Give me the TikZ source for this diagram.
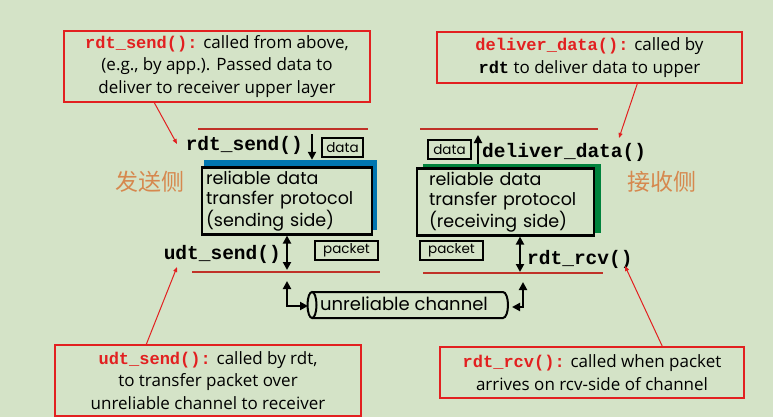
\documentclass[tikz,border=0pt]{standalone}
\usepackage{fontspec}
\setmainfont{Open Sans}
\setmonofont{Liberation Mono}
\newfontfamily\gothic{Poppins}
\newfontfamily\cjk{Noto Sans CJK SC}
\usetikzlibrary{arrows.meta}
\definecolor{bg}{RGB}{212,227,199}
\definecolor{notered}{RGB}{226,32,32}
\definecolor{linered}{RGB}{192,50,40}
\definecolor{sendblue}{RGB}{0,118,176}
\definecolor{recvgreen}{RGB}{0,130,60}
\definecolor{sideorange}{RGB}{214,136,78}
\newcommand{\code}[1]{\textcolor{notered}{\ttfamily\bfseries #1}}

\begin{document}
\begin{tikzpicture}[x=1pt,y=-1pt,
  note/.style={draw=notered,line width=1.4pt,inner sep=0,align=center,font=\fontsize{17}{22.5}\selectfont},
  fn/.style={inner sep=0,font=\fontsize{19.5}{20}\selectfont\ttfamily\bfseries},
  tag/.style={draw,line width=2.5pt,inner sep=0,minimum width=41,minimum height=19,font=\gothic\fontsize{13.5}{13.5}\selectfont},
  layer/.style={draw,line width=2.5pt,fill=bg,align=left,minimum height=66,font=\gothic\fontsize{17.5}{20}\selectfont},
  wire/.style={linered,line width=2.5pt},
  pointer/.style={notered,line width=1pt,-{Triangle[length=5pt,width=4pt]}},
  blk/.style={line width=2pt,-{Triangle[length=8pt,width=8pt]}},
  both/.style={line width=2pt,{Triangle[length=8pt,width=8pt]}-{Triangle[length=8pt,width=8pt]}}]
\fill[bg] (0,0) rectangle (773,417);
\useasboundingbox (0,0) rectangle (773,417);
% callouts
\node[note,minimum width=306,minimum height=71] (sendnote) at (217,66.5) {\code{rdt\_send():} called from above,\\(e.g., by app.). Passed data to\\deliver to receiver upper layer};
\node[note,minimum width=305,minimum height=51] (delivnote) at (589.5,57.5) {\code{deliver\_data():} called by\\{\ttfamily\bfseries rdt} to deliver data to upper};
\node[note,minimum width=306,minimum height=71] (udtnote) at (208,380.5) {\code{udt\_send():} called by rdt,\\to transfer packet over\\unreliable channel to receiver};
\node[note,minimum width=304,minimum height=51] (rcvnote) at (592,372.5) {\code{rdt\_rcv():} called when packet\\arrives on rcv-side of channel};
% layers
\draw[wire] (198,129) -- (368,129);
\draw[wire] (420,129) -- (598,129);
\draw[wire] (192,272) -- (380,272);
\draw[wire] (423,273) -- (603,273);
\node[fill=sendblue,minimum width=173,minimum height=70] (sendback) at (290.5,195) {};
\node[layer,text width=162,inner xsep=4] (sendbox) at (287,201) {reliable data\\transfer protocol\\(sending side)};
\node[fill=recvgreen,minimum width=178,minimum height=69] (recvback) at (512,198.5) {};
\node[layer,text width=153,inner xsep=12] (recvbox) at (505.5,202) {reliable data\\transfer protocol\\(receiving side)};
\node[text=sideorange,font=\cjk\fontsize{23}{23}\selectfont] (sendside) at (150,182) {发送侧};
\node[text=sideorange,font=\cjk\fontsize{23}{23}\selectfont] (recvside) at (662,182) {接收侧};
% interface names and tags
\node[fn,anchor=east] (rdtsend) at (303,145) {rdt\_send()};
\node[fn,anchor=west] (delivdata) at (482,152) {deliver\_data()};
\node[fn,anchor=east] (udtsend) at (281,254) {udt\_send()};
\node[fn,anchor=west] (rdtrcv) at (527,259) {rdt\_rcv()};
\node[tag] (datasend) at (342.5,147.5) {data};
\node[tag,minimum width=43] (datarecv) at (449.5,149.5) {data};
\node[tag,minimum width=63] (packetsend) at (346.5,250.5) {packet};
\node[tag,minimum width=63] (packetrecv) at (451.5,250.5) {packet};
% channel
\draw[line width=2pt,fill=bg] (312,292) -- (503,292) arc[start angle=-90,end angle=90,x radius=5,y radius=13] -- (312,318);
\draw[line width=2pt] (312,305) ellipse[x radius=4.5,y radius=13];
\node[inner sep=0,font=\gothic\fontsize{18}{18}\selectfont] (channel) at (404,304) {unreliable channel};
% arrows
\coordinate (sendtop) at (312,134);
\coordinate (recvtop) at (478,135);
\coordinate (sendwire) at (287,270);
\coordinate (recvwire) at (520,272);
\coordinate (sendup) at (287,281);
\coordinate (recvup) at (523,282);
\coordinate (chanL) at (308,306);
\coordinate (chanR) at (512,307);
\draw[blk] (sendtop) -- (sendtop |- sendback.north);
\draw[blk] (recvtop |- recvback.north) -- (recvtop);
\draw[both] (sendbox.south) -- (sendwire);
\draw[both] (recvwire |- recvbox.south) -- (recvwire);
\draw[both] (sendup) |- (chanL);
\draw[both] (recvup) |- (chanR);
\coordinate (rdtsendtip) at (177,144);
\coordinate (delivtip) at (619,138);
\coordinate (udttip) at (177,267);
\coordinate (rcvtip) at (625,266);
\draw[pointer] ([xshift=91pt]sendnote.south west) -- (rdtsendtip);
\draw[pointer] ([xshift=201pt]delivnote.south west) -- (delivtip);
\draw[pointer] ([xshift=92pt]udtnote.north west) -- (udttip);
\draw[pointer] ([xshift=223pt]rcvnote.north west) -- (rcvtip);
\end{tikzpicture}
\end{document}
